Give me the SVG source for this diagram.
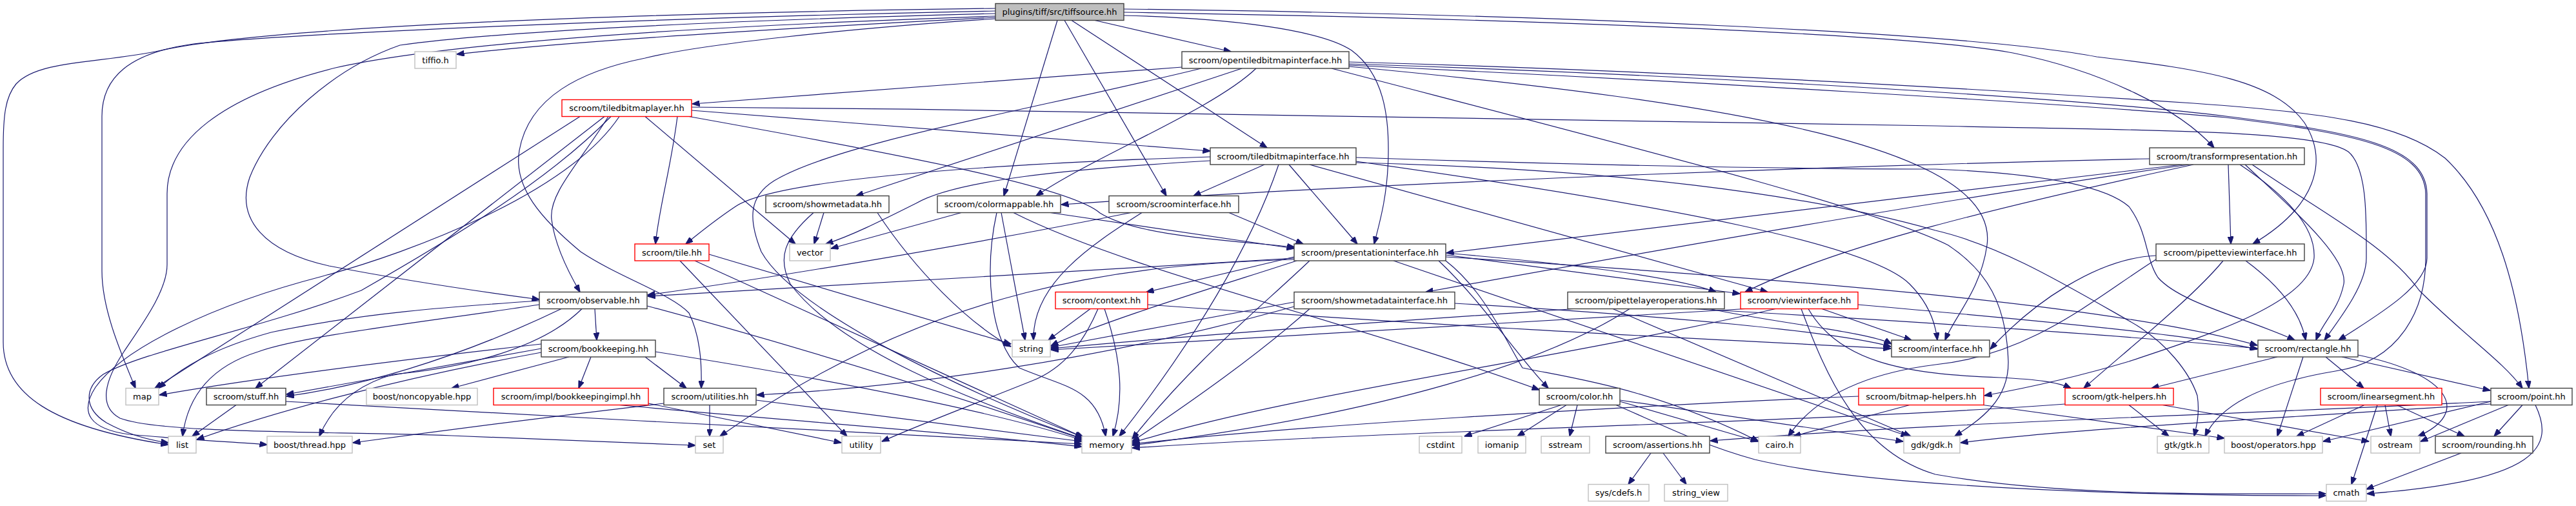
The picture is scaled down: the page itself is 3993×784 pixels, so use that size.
<svg xmlns="http://www.w3.org/2000/svg" width="3993" height="784" viewBox="0 0 3993 784">
<defs>
<marker id="ah" viewBox="0 0 12 9" refX="11.5" refY="4.5" markerWidth="12" markerHeight="9" markerUnits="userSpaceOnUse" orient="auto">
<path d="M0,0 L12,4.5 L0,9 z" fill="#191970" stroke="#191970" stroke-width="1"/>
</marker>
<style>
.e{fill:none;stroke:#191970;stroke-width:1.2;marker-end:url(#ah)}
rect{fill:#fff;stroke-width:1.4}
.nb rect{stroke:#404040}
.nr rect{stroke:#ff0000}
.ng rect{stroke:#bfbfbf}
.root rect{fill:#bfbfbf;stroke:#404040}
text{font-family:"DejaVu Sans","Liberation Sans",sans-serif;font-size:13px;text-anchor:middle;fill:#000}
</style>
</defs>
<rect x="0" y="0" width="3993" height="784" fill="#fff" stroke="none"/>
<g id="connectors">
<path class="e" d="M1543,27 C1250,42 900,62 708,84"/>
<path class="e" d="M1697,31.5 L1908,80"/>
<path class="e" d="M1661,31.5 L1964,229"/>
<path class="e" d="M1650,31.5 L1808,303.5"/>
<path class="e" d="M1639,31.5 L1556,303.5"/>
<path class="e" d="M1742,24 C1900,28 2045,45 2095,78 C2145,115 2153,180 2152,240 C2151,300 2140,340 2130,378"/>
<path class="e" d="M1742,19 C2300,28 2950,50 3120,82 C3260,110 3380,170 3432,229"/>
<path class="e" d="M1742,14 C2400,22 3050,50 3250,88 C3420,108 3525,125 3572,190 C3610,250 3590,320 3492,378"/>
<path class="e" d="M1543,21 C1100,32 760,50 620,70 C520,105 420,190 387,275 C365,340 410,390 510,412 C630,435 760,454 836,464"/>
<path class="e" d="M1543,13 C1000,20 420,40 250,78 C160,98 60,92 25,130 C8,150 5,180 5,230 L5,530 C5,610 80,662 261,689"/>
<path class="e" d="M1543,17 C1000,28 450,52 300,68 C200,82 158,120 158,180 L158,420 C158,480 188,548 210,601.5"/>
<path class="e" d="M1543,25 C1100,40 700,65 520,105 C340,150 259,220 259,300 L259,410 C259,450 222,500 192,545 C162,590 152,630 186,648 C250,672 500,668 700,675 C900,682 1020,688 1078,690"/>
<path class="e" d="M1543,29 C1300,45 1080,70 1000,90 C900,110 820,150 805,233 C795,290 840,340 900,390 C960,430 1040,455 1068,485 C1085,520 1088,560 1087,601.5"/>
<path class="e" d="M1832,104 L1073,161"/>
<path class="e" d="M1925,106 L1327,303.5"/>
<path class="e" d="M1947,106 C1880,170 1700,240 1606,303.5"/>
<path class="e" d="M1862,106 C1600,170 1300,220 1200,280 C1160,305 1160,340 1180,390 C1230,480 1480,600 1678,677"/>
<path class="e" d="M2091,96 C2600,110 3100,140 3400,160 C3600,174 3720,190 3790,245 C3870,320 3905,450 3920,601.5"/>
<path class="e" d="M2091,99 C2600,115 3200,150 3450,180 C3650,205 3760,225 3762,300 L3762,400 C3762,440 3700,480 3625,527"/>
<path class="e" d="M2091,101 C2600,125 3200,160 3450,182 C3650,207 3758,227 3760,300 L3760,400 C3760,480 3720,560 3620,575 C3500,595 3440,630 3418,676"/>
<path class="e" d="M2091,103 C2700,160 3100,230 3080,380 C3070,450 3030,490 3015,527"/>
<path class="e" d="M2064,106 C2500,220 2900,320 3020,380 C3080,420 3110,470 3113,560 C3114,620 3070,650 3030,676"/>
<path class="e" d="M1072,171 L1876,234"/>
<path class="e" d="M1050,180.5 C1040,260 1022,320 1016,378"/>
<path class="e" d="M1000,180.5 L1233,378"/>
<path class="e" d="M899,180.5 L240,601.5"/>
<path class="e" d="M937,180.5 L396,601.5"/>
<path class="e" d="M947,180.5 C850,280 700,370 560,450 C400,510 220,545 160,580 C132,600 128,632 165,655 C200,674 230,682 261,686"/>
<path class="e" d="M943,180.5 C900,250 850,300 855,340 C860,380 880,420 899,452.5"/>
<path class="e" d="M960,180.5 C880,300 640,390 500,428 C330,472 190,540 148,600 C122,640 140,665 200,673 C300,682 380,686 414,689"/>
<path class="e" d="M1072,166 C1800,172 2600,185 3000,195 C3300,202 3590,200 3640,235 C3670,260 3668,340 3668,400 C3668,440 3630,490 3603,527"/>
<path class="e" d="M1068,180.5 C1400,240 1660,290 1705,330 C1760,365 1900,372 2007,383"/>
<path class="e" d="M1960,255 L1850,303.5"/>
<path class="e" d="M1876,243 C1500,255 1200,280 1140,320 C1110,340 1085,360 1063,378"/>
<path class="e" d="M1876,249 C1650,262 1480,280 1420,315 C1360,345 1320,365 1280,378"/>
<path class="e" d="M1998,255 L2104,378"/>
<path class="e" d="M1982,255 C1940,380 1850,530 1735,676"/>
<path class="e" d="M2102,244 C2500,258 2850,262 3000,262 C3150,268 3260,285 3300,320 C3330,360 3325,400 3345,430 C3380,470 3480,492 3557,527"/>
<path class="e" d="M2102,250 C2600,320 2900,380 2960,440 C2990,470 3000,500 3003,527"/>
<path class="e" d="M2030,255 L2740,452.5"/>
<path class="e" d="M2102,252 C2500,262 2800,300 3000,357 C3100,380 3200,440 3300,497 C3360,530 3395,580 3406,613 C3410,640 3405,660 3401,676"/>
<path class="e" d="M1905,329.5 L2020,378"/>
<path class="e" d="M1770,329.5 C1690,380 1600,440 1602,527"/>
<path class="e" d="M1753,329.5 C1500,380 1200,430 1004,457"/>
<path class="e" d="M1628,329.5 L2006,385"/>
<path class="e" d="M1490,329.5 L1288,385"/>
<path class="e" d="M1552,329.5 L1589,527"/>
<path class="e" d="M1545,329.5 C1525,420 1535,530 1580,570 C1650,600 1700,600 1714,676"/>
<path class="e" d="M1571,329.5 C1750,420 2100,500 2386,604"/>
<path class="e" d="M1277,329.5 L1262,378"/>
<path class="e" d="M1261,329.5 C1215,370 1205,400 1225,440 C1300,540 1500,620 1680,680"/>
<path class="e" d="M1360,329.5 C1420,420 1500,500 1567,537"/>
<path class="e" d="M1054,404 L1313,676"/>
<path class="e" d="M1077,404 L1680,678"/>
<path class="e" d="M1099,394 L1567,533"/>
<path class="e" d="M2006,400 C1700,420 1300,440 1004,459"/>
<path class="e" d="M2006,402 C1750,410 1450,440 1116,676"/>
<path class="e" d="M2006,398 L1777,452.5"/>
<path class="e" d="M2010,404 C1900,440 1700,500 1629,536"/>
<path class="e" d="M2030,404 C1950,480 1850,560 1755,680"/>
<path class="e" d="M2230,404 C2300,470 2350,550 2400,601.5"/>
<path class="e" d="M2160,404 L2958,676"/>
<path class="e" d="M2241,404 C2300,450 2330,520 2360,570 C2430,585 2560,600 2726,684"/>
<path class="e" d="M2241,395 L2697,455"/>
<path class="e" d="M2241,398 C2900,440 3300,480 3499,535"/>
<path class="e" d="M2241,392 C2450,410 2600,430 2660,452.5"/>
<path class="e" d="M3342,396 C3250,400 3150,470 3085,541"/>
<path class="e" d="M3481,404 C3530,440 3565,480 3574,527"/>
<path class="e" d="M3446,404 C3400,460 3300,540 3230,601.5"/>
<path class="e" d="M3342,402 C3250,460 3150,550 3000,565 C2880,580 2810,620 2772,676"/>
<path class="e" d="M3454,255 L3458,378"/>
<path class="e" d="M3332,246 C2800,258 2100,285 1645,317"/>
<path class="e" d="M3382,255 C3000,300 2500,360 2242,392"/>
<path class="e" d="M3393,255 C3000,310 2500,400 2210,452.5"/>
<path class="e" d="M3400,255 C3100,320 2850,380 2705,452.5"/>
<path class="e" d="M3480,255 C3560,330 3640,400 3633,440 C3625,480 3600,500 3590,527"/>
<path class="e" d="M3491,255 C3600,330 3700,380 3750,450 C3820,520 3880,560 3910,601.5"/>
<path class="e" d="M3472,255 C3540,300 3590,350 3587,400 C3580,470 3420,520 3300,560 C3200,590 3120,605 3076,613"/>
<path class="e" d="M1690,478.5 L1625,527"/>
<path class="e" d="M1712,478.5 C1740,560 1742,620 1725,676"/>
<path class="e" d="M1702,478.5 C1680,530 1650,570 1600,590 C1500,630 1420,660 1367,684"/>
<path class="e" d="M1779,472 C2300,510 2700,528 2931,540"/>
<path class="e" d="M2006,468 L1629,538"/>
<path class="e" d="M2030,478.5 C1950,550 1850,620 1755,684"/>
<path class="e" d="M2255,470 C2600,490 2850,515 2931,537"/>
<path class="e" d="M2006,475 C1700,560 1400,600 1173,612"/>
<path class="e" d="M2440,478.5 C2200,495 1900,515 1629,540"/>
<path class="e" d="M2526,478.5 C2400,560 2150,640 1755,690"/>
<path class="e" d="M2625,478.5 C3000,500 3300,520 3499,540"/>
<path class="e" d="M2500,478.5 L2962,676"/>
<path class="e" d="M2650,478.5 C2750,500 2900,515 2932,533"/>
<path class="e" d="M2752,478.5 C2400,560 2000,610 1755,686"/>
<path class="e" d="M2705,478.5 C2300,505 1900,525 1629,542"/>
<path class="e" d="M2824,478.5 L2963,527"/>
<path class="e" d="M2880,472 C3200,500 3400,520 3499,541"/>
<path class="e" d="M2792,478.5 C2830,580 2880,700 3000,735 C3200,770 3450,765 3605,765"/>
<path class="e" d="M2803,478.5 C2850,560 2950,580 3100,585 C3160,588 3190,592 3210,601.5"/>
<path class="e" d="M839,533 C600,560 400,585 247,612"/>
<path class="e" d="M839,540 L444,611"/>
<path class="e" d="M839,546 C600,590 420,640 305,681"/>
<path class="e" d="M882,553 L700,601.5"/>
<path class="e" d="M916,553 L897,601.5"/>
<path class="e" d="M1000,553 L1064,601.5"/>
<path class="e" d="M1016,545 C1300,590 1550,640 1677,682"/>
<path class="e" d="M836,466 C700,475 560,485 420,515 C330,540 280,570 246,601.5"/>
<path class="e" d="M836,472 C650,500 470,520 400,545 C320,570 290,620 283,676"/>
<path class="e" d="M902,478.5 C840,540 720,570 610,580 C540,600 510,640 495,676"/>
<path class="e" d="M922,478.5 L925,527"/>
<path class="e" d="M870,478.5 C700,560 550,600 444,614"/>
<path class="e" d="M1003,474 C1250,540 1500,620 1677,680"/>
<path class="e" d="M366,627.5 L298,676"/>
<path class="e" d="M443,622 C800,645 1400,670 1677,688"/>
<path class="e" d="M1005,625 L1304,686"/>
<path class="e" d="M960,627.5 C1200,650 1500,672 1677,692"/>
<path class="e" d="M1100,627.5 L1100,676"/>
<path class="e" d="M1172,620 L1677,684"/>
<path class="e" d="M1029,625 C900,640 700,665 547,686"/>
<path class="e" d="M2420,627.5 L2270,676"/>
<path class="e" d="M2428,627.5 L2352,676"/>
<path class="e" d="M2445,627.5 L2433,676"/>
<path class="e" d="M2511,622 L2725,684"/>
<path class="e" d="M2511,620 L2950,684"/>
<path class="e" d="M2505,627.5 C2580,660 2640,690 2720,712 C2900,755 3300,768 3605,768"/>
<path class="e" d="M2960,627.5 L2780,676"/>
<path class="e" d="M2881,614 C2500,630 2000,660 1755,688"/>
<path class="e" d="M3063,626 L3448,679"/>
<path class="e" d="M3300,627.5 L3362,676"/>
<path class="e" d="M3352,627.5 L3672,684"/>
<path class="e" d="M3201,626 C2800,655 2200,665 1755,694"/>
<path class="e" d="M3530,553 L3335,601.5"/>
<path class="e" d="M3605,553 L3664,601.5"/>
<path class="e" d="M3630,553 L3860,605"/>
<path class="e" d="M3570,553 L3530,676"/>
<path class="e" d="M3655,550 C3800,580 3830,640 3748,676"/>
<path class="e" d="M3665,627.5 L3560,676"/>
<path class="e" d="M3697,627.5 L3706,676"/>
<path class="e" d="M3715,627.5 L3820,676"/>
<path class="e" d="M3685,627.5 L3645,750.5"/>
<path class="e" d="M3861,622 L3601,684"/>
<path class="e" d="M3888,627.5 L3752,684"/>
<path class="e" d="M3910,627.5 L3866,676"/>
<path class="e" d="M3930,627.5 C3960,690 3940,745 3669,765"/>
<path class="e" d="M3861,626 C3500,650 3200,665 3039,686"/>
<path class="e" d="M3861,622 C3400,645 3000,655 2651,683"/>
<path class="e" d="M3815,702 L3668,758"/>
<path class="e" d="M2559,702 L2524,750.5"/>
<path class="e" d="M2578,702 L2614,750.5"/>
</g>
<g id="n_tiffsource" class="root"><rect x="1543" y="5.5" width="199" height="26"/><text x="1642.5" y="23">plugins/tiff/src/tiffsource.hh</text></g>
<g id="n_tiffio" class="ng"><rect x="643" y="80" width="64" height="26"/><text x="675" y="97.5">tiffio.h</text></g>
<g id="n_opentiledbitmapinterface" class="nb"><rect x="1832" y="80" width="259" height="26"/><text x="1961.5" y="97.5">scroom/opentiledbitmapinterface.hh</text></g>
<g id="n_tiledbitmaplayer" class="nr"><rect x="871" y="154.5" width="201" height="26"/><text x="971.5" y="172">scroom/tiledbitmaplayer.hh</text></g>
<g id="n_tiledbitmapinterface" class="nb"><rect x="1876" y="229" width="226" height="26"/><text x="1989" y="246.5">scroom/tiledbitmapinterface.hh</text></g>
<g id="n_transformpresentation" class="nb"><rect x="3332" y="229" width="240" height="26"/><text x="3452" y="246.5">scroom/transformpresentation.hh</text></g>
<g id="n_showmetadata" class="nb"><rect x="1187" y="303.5" width="191" height="26"/><text x="1282.5" y="321">scroom/showmetadata.hh</text></g>
<g id="n_colormappable" class="nb"><rect x="1453" y="303.5" width="191" height="26"/><text x="1548.5" y="321">scroom/colormappable.hh</text></g>
<g id="n_scroominterface" class="nb"><rect x="1719" y="303.5" width="201" height="26"/><text x="1819.5" y="321">scroom/scroominterface.hh</text></g>
<g id="n_tile" class="nr"><rect x="984" y="378" width="115" height="26"/><text x="1041.5" y="395.5">scroom/tile.hh</text></g>
<g id="n_vector" class="ng"><rect x="1224" y="378" width="63" height="26"/><text x="1255.5" y="395.5">vector</text></g>
<g id="n_presentationinterface" class="nb"><rect x="2006" y="378" width="235" height="26"/><text x="2123.5" y="395.5">scroom/presentationinterface.hh</text></g>
<g id="n_pipetteviewinterface" class="nb"><rect x="3342" y="378" width="230" height="26"/><text x="3457" y="395.5">scroom/pipetteviewinterface.hh</text></g>
<g id="n_observable" class="nb"><rect x="836" y="452.5" width="167" height="26"/><text x="919.5" y="470">scroom/observable.hh</text></g>
<g id="n_context" class="nr"><rect x="1636" y="452.5" width="143" height="26"/><text x="1707.5" y="470">scroom/context.hh</text></g>
<g id="n_showmetadatainterface" class="nb"><rect x="2006" y="452.5" width="249" height="26"/><text x="2130.5" y="470">scroom/showmetadatainterface.hh</text></g>
<g id="n_pipettelayeroperations" class="nb"><rect x="2430" y="452.5" width="243" height="26"/><text x="2551.5" y="470">scroom/pipettelayeroperations.hh</text></g>
<g id="n_viewinterface" class="nr"><rect x="2698" y="452.5" width="182" height="26"/><text x="2789" y="470">scroom/viewinterface.hh</text></g>
<g id="n_bookkeeping" class="nb"><rect x="839" y="527" width="177" height="26"/><text x="927.5" y="544.5">scroom/bookkeeping.hh</text></g>
<g id="n_string" class="ng"><rect x="1569" y="527" width="59" height="26"/><text x="1598.5" y="544.5">string</text></g>
<g id="n_interface" class="nb"><rect x="2932" y="527" width="152" height="26"/><text x="3008" y="544.5">scroom/interface.hh</text></g>
<g id="n_rectangle" class="nb"><rect x="3500" y="527" width="155" height="26"/><text x="3577.5" y="544.5">scroom/rectangle.hh</text></g>
<g id="n_map" class="ng"><rect x="195" y="601.5" width="51" height="26"/><text x="220.5" y="619">map</text></g>
<g id="n_stuff" class="nb"><rect x="320" y="601.5" width="123" height="26"/><text x="381.5" y="619">scroom/stuff.hh</text></g>
<g id="n_noncopyable" class="ng"><rect x="568" y="601.5" width="172" height="26"/><text x="654" y="619">boost/noncopyable.hpp</text></g>
<g id="n_bookkeepingimpl" class="nr"><rect x="765" y="601.5" width="240" height="26"/><text x="885" y="619">scroom/impl/bookkeepingimpl.hh</text></g>
<g id="n_utilities" class="nb"><rect x="1029" y="601.5" width="143" height="26"/><text x="1100.5" y="619">scroom/utilities.hh</text></g>
<g id="n_color" class="nb"><rect x="2386" y="601.5" width="125" height="26"/><text x="2448.5" y="619">scroom/color.hh</text></g>
<g id="n_bitmaphelpers" class="nr"><rect x="2881" y="601.5" width="194" height="26"/><text x="2978" y="619">scroom/bitmap-helpers.hh</text></g>
<g id="n_gtkhelpers" class="nr"><rect x="3201" y="601.5" width="168" height="26"/><text x="3285" y="619">scroom/gtk-helpers.hh</text></g>
<g id="n_linearsegment" class="nr"><rect x="3597" y="601.5" width="188" height="26"/><text x="3691" y="619">scroom/linearsegment.hh</text></g>
<g id="n_point" class="nb"><rect x="3861" y="601.5" width="126" height="26"/><text x="3924" y="619">scroom/point.hh</text></g>
<g id="n_list" class="ng"><rect x="261" y="676" width="43" height="26"/><text x="282.5" y="693.5">list</text></g>
<g id="n_thread" class="ng"><rect x="414" y="676" width="132" height="26"/><text x="480" y="693.5">boost/thread.hpp</text></g>
<g id="n_set" class="ng"><rect x="1078" y="676" width="43" height="26"/><text x="1099.5" y="693.5">set</text></g>
<g id="n_utility" class="ng"><rect x="1305" y="676" width="60" height="26"/><text x="1335" y="693.5">utility</text></g>
<g id="n_memory" class="ng"><rect x="1677" y="676" width="77" height="26"/><text x="1715.5" y="693.5">memory</text></g>
<g id="n_cstdint" class="ng"><rect x="2200" y="676" width="66" height="26"/><text x="2233" y="693.5">cstdint</text></g>
<g id="n_iomanip" class="ng"><rect x="2291" y="676" width="74" height="26"/><text x="2328" y="693.5">iomanip</text></g>
<g id="n_sstream" class="ng"><rect x="2389" y="676" width="75" height="26"/><text x="2426.5" y="693.5">sstream</text></g>
<g id="n_assertions" class="nb"><rect x="2489" y="676" width="161" height="26"/><text x="2569.5" y="693.5">scroom/assertions.hh</text></g>
<g id="n_cairo" class="ng"><rect x="2726" y="676" width="65" height="26"/><text x="2758.5" y="693.5">cairo.h</text></g>
<g id="n_gdk" class="ng"><rect x="2951" y="676" width="87" height="26"/><text x="2994.5" y="693.5">gdk/gdk.h</text></g>
<g id="n_gtk" class="ng"><rect x="3344" y="676" width="80" height="26"/><text x="3384" y="693.5">gtk/gtk.h</text></g>
<g id="n_operators" class="ng"><rect x="3448" y="676" width="152" height="26"/><text x="3524" y="693.5">boost/operators.hpp</text></g>
<g id="n_ostream" class="ng"><rect x="3675" y="676" width="76" height="26"/><text x="3713" y="693.5">ostream</text></g>
<g id="n_rounding" class="nb"><rect x="3775" y="676" width="151" height="26"/><text x="3850.5" y="693.5">scroom/rounding.hh</text></g>
<g id="n_syscdefs" class="ng"><rect x="2462" y="750.5" width="94" height="26"/><text x="2509" y="768">sys/cdefs.h</text></g>
<g id="n_stringview" class="ng"><rect x="2580" y="750.5" width="98" height="26"/><text x="2629" y="768">string_view</text></g>
<g id="n_cmath" class="ng"><rect x="3606" y="750.5" width="62" height="26"/><text x="3637" y="768">cmath</text></g>
</svg>
